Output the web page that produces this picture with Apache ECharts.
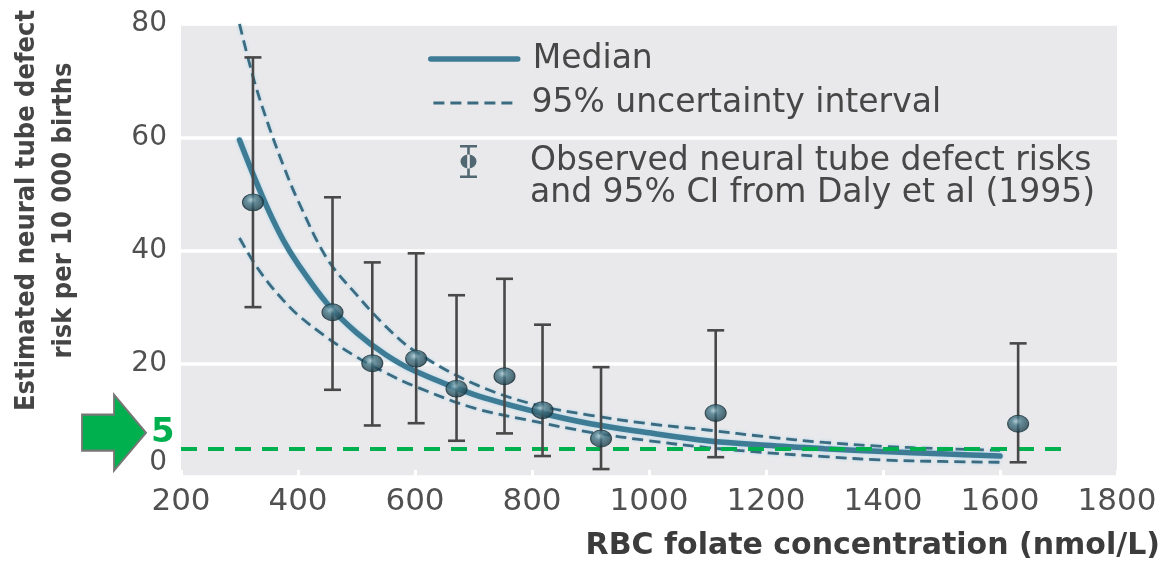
<!DOCTYPE html>
<html>
<head>
<meta charset="utf-8">
<script src="https://cdn.jsdelivr.net/npm/echarts@6/dist/echarts.min.js"></script>
<style>
  html, body { margin: 0; padding: 0; background: #ffffff; }
  #chart { width: 1166px; height: 566px; }
</style>
</head>
<body>
<div id="chart"></div>
<script>
// Modelled neural tube defect risk against red blood cell folate
const concentration = [300, 325, 350, 375, 400, 450, 500, 550, 600, 700, 800, 900, 1000, 1100, 1200, 1300, 1400, 1500, 1600];
const medianRisk = [59.5, 53, 47, 41.8, 37.6, 30.6, 25.5, 21.6, 18.7, 14.6, 11.7, 9.4, 7.8, 6.4, 5.6, 5.0, 4.5, 4.1, 3.7];
const upperRisk = [80, 70, 62, 55, 48.8, 38.5, 32.2, 26.6, 22.2, 16.5, 12.9, 10.9, 9.4, 8.3, 7.1, 6.1, 5.4, 5.0, 4.7];
const lowerRisk = [42.2, 37.8, 34.2, 31.2, 28.6, 24.6, 21.2, 18.4, 16.0, 12.2, 9.9, 7.9, 6.4, 5.2, 4.3, 3.6, 3.0, 2.75, 2.6];

// Observed risks with 95% CI (Daly et al, 1995)
const folateObs = [323, 459, 527, 602, 671, 753, 818, 918, 1114, 1631];
const riskObs = [48.5, 29.1, 20.1, 20.9, 15.6, 17.8, 11.8, 6.8, 11.3, 9.4];
const ciLow = [30.0, 15.4, 9.1, 9.5, 6.4, 7.7, 3.7, 1.4, 3.5, 2.6];
const ciHigh = [74.1, 49.4, 37.9, 39.5, 32.1, 35.0, 26.9, 19.4, 25.9, 23.6];

// Target risk threshold
const targetRisk = 5;
const targetSpan = [200, 1710];

// Axis ticks
const xTicks = { min: 200, max: 1800, interval: 200 };
const yTicks = { min: 0, max: 80, interval: 20 };

const NAME_MEDIAN = 'Median';
const NAME_UI = '95% uncertainty interval';
const NAME_OBS = 'Observed neural tube defect risks\nand 95% CI from Daly et al (1995)';

const pairs = (xs, ys) => xs.map((x, i) => [x, ys[i]]);

const lineColor = '#3e7c96';
const dashColor = '#3a6b80';
const halo = 'rgba(160, 210, 235, 0.9)';
const labelFont = 'DejaVu Sans';

const sphere = {
  type: 'radial', x: 0.42, y: 0.36, r: 0.72,
  colorStops: [
    { offset: 0, color: '#a9cbd6' },
    { offset: 0.3, color: '#467888' },
    { offset: 1, color: '#14303b' }
  ]
};

const arrowPath = 'path://M0,20 H32 V0 L64,38 L32,76 V56 H0 Z';
// Capped bar with a bead; the two tiny end segments only widen the icon's box
// so it keeps its natural size inside the legend item.
const obsIcon = 'path://M0,0h17v2.6h-7.2v27.8h7.2v2.6h-17v-2.6h7.2v-27.8h-7.2z' +
  'M0.5,16.5a8,7 0 1,0 16,0a8,7 0 1,0 -16,0z' +
  'M-32,0L-32,0.01M55,65L55,64.99';

function renderErrorBar(params, api) {
  const x = api.value(0);
  const lo = api.coord([x, api.value(1)]);
  const hi = api.coord([x, api.value(2)]);
  const half = 8.5;
  const style = { stroke: '#484848', lineWidth: 2.6 };
  return {
    type: 'group',
    children: [
      { type: 'line', shape: { x1: lo[0], y1: lo[1], x2: hi[0], y2: hi[1] }, style },
      { type: 'line', shape: { x1: lo[0] - half, y1: lo[1], x2: lo[0] + half, y2: lo[1] }, style },
      { type: 'line', shape: { x1: hi[0] - half, y1: hi[1], x2: hi[0] + half, y2: hi[1] }, style }
    ]
  };
}

const legendText = { fontFamily: labelFont, fontSize: 33, color: '#474747' };

const bandLine = {
  type: 'line', smooth: 0.35, showSymbol: false, symbol: 'none', z: 3,
  lineStyle: { color: dashColor, width: 2.8, type: [11, 6], shadowColor: halo, shadowBlur: 3 },
  itemStyle: { color: dashColor }
};

const option = {
  animation: false,
  title: {
    text: 'RBC folate concentration (nmol/L)',
    right: 6,
    top: 531,
    padding: 0,
    textStyle: { fontFamily: labelFont, fontSize: 30, fontWeight: 'bold', color: '#3c3c3c' }
  },
  legend: [
    {
      data: [{ name: NAME_MEDIAN, itemStyle: { opacity: 0 }, lineStyle: { width: 5.5 } }],
      left: 428, top: 42, padding: 0,
      itemWidth: 87, itemHeight: 14, selectedMode: false,
      textStyle: Object.assign({ lineHeight: 34, padding: [0, 0, 0, 10] }, legendText)
    },
    {
      data: [{ name: NAME_UI, itemStyle: { opacity: 0 }, lineStyle: { width: 2.8 } }],
      left: 432, top: 86, padding: 0,
      itemWidth: 82, itemHeight: 14, selectedMode: false,
      textStyle: Object.assign({ lineHeight: 34, padding: [0, 0, 0, 11] }, legendText)
    },
    {
      data: [{ name: NAME_OBS, icon: obsIcon, itemStyle: { color: '#2b4652', borderWidth: 0 } }],
      left: 428, top: 145, padding: 0,
      itemWidth: 87, itemHeight: 65, selectedMode: false,
      textStyle: Object.assign({ lineHeight: 32, padding: [0, 0, 0, 10] }, legendText)
    }
  ],
  grid: {
    left: 181, right: 49, top: 24, bottom: 89,
    outerBoundsMode: 'none', containLabel: false,
    show: true, backgroundColor: '#e9e9eb', borderWidth: 0
  },
  xAxis: {
    type: 'value',
    min: xTicks.min, max: xTicks.max, interval: xTicks.interval,
    axisLine: { show: false },
    axisTick: { show: true, inside: true, length: 7, lineStyle: { color: '#ffffff', width: 3 } },
    splitLine: { show: false },
    axisLabel: {
      fontFamily: labelFont, fontSize: 31, color: '#505050', margin: 9,
      formatter: (v) => String(v)
    }
  },
  yAxis: {
    type: 'value',
    min: yTicks.min, max: yTicks.max, interval: yTicks.interval,
    name: 'Estimated neural tube defect\nrisk per 10 000 births',
    nameLocation: 'middle',
    nameRotate: 90,
    nameGap: 99,
    nameTextStyle: {
      fontFamily: 'DejaVu Sans Condensed', fontWeight: 'bold', fontSize: 27,
      color: '#454545', lineHeight: 37, align: 'center', padding: [0, 0, 0, 80]
    },
    axisLine: { show: false },
    axisTick: { show: false },
    splitLine: { show: true, lineStyle: { color: '#ffffff', width: 3.5 } },
    axisLabel: {
      fontFamily: labelFont, fontSize: 28, color: '#505050', margin: 14,
      verticalAlignMinLabel: 'bottom', formatter: (v) => String(v)
    }
  },
  series: [
    Object.assign({ name: NAME_UI, data: pairs(concentration, upperRisk) }, bandLine),
    Object.assign({ name: NAME_UI, data: pairs(concentration, lowerRisk) }, bandLine),
    {
      name: NAME_MEDIAN, type: 'line', data: pairs(concentration, medianRisk),
      smooth: 0.35, showSymbol: false, symbol: 'none', z: 4,
      lineStyle: { color: lineColor, width: 5.5, cap: 'round', shadowColor: halo, shadowBlur: 3 },
      itemStyle: { color: lineColor }
    },
    {
      name: 'Observed 95% CI', type: 'custom', z: 5,
      renderItem: renderErrorBar,
      encode: { x: 0, y: [1, 2] },
      data: folateObs.map((x, i) => [x, ciLow[i], ciHigh[i]])
    },
    {
      name: NAME_OBS, type: 'scatter', z: 6,
      data: pairs(folateObs, riskObs),
      symbol: 'circle', symbolSize: [21, 17],
      itemStyle: { color: sphere, borderColor: '#1b323b', borderWidth: 1 }
    },
    {
      name: 'Target risk', type: 'line', data: [], z: 10, clip: false,
      markLine: {
        silent: true, symbol: 'none',
        label: { show: false },
        lineStyle: { color: '#00b04f', width: 4, type: [16, 11] },
        data: [[{ coord: [targetSpan[0], targetRisk] }, { coord: [targetSpan[1], targetRisk] }]]
      },
      markPoint: {
        silent: true,
        symbol: arrowPath, symbolSize: [64, 76], symbolOffset: [-67, -16],
        itemStyle: { color: '#00b04f', borderColor: '#777777', borderWidth: 2 },
        label: {
          show: true, position: 'right', distance: 4, formatter: '{c}',
          fontFamily: labelFont, fontSize: 34, fontWeight: 'bold', color: '#00b04f'
        },
        data: [{ coord: [targetSpan[0], targetRisk], value: targetRisk }]
      }
    }
  ]
};

const chart = echarts.init(document.getElementById('chart'), null, { renderer: 'canvas' });
chart.setOption(option);
</script>
</body>
</html>
